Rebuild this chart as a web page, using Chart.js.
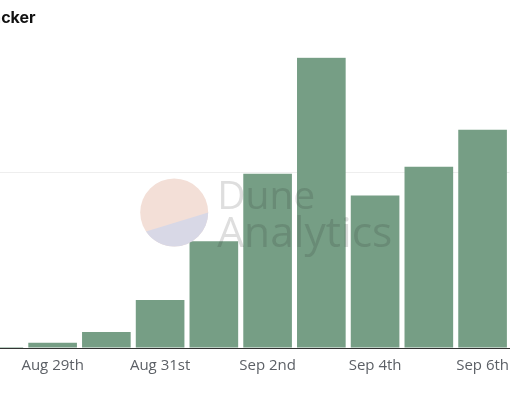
<!DOCTYPE html>
<html><head><meta charset="utf-8">
<style>html,body{margin:0;padding:0;background:#fff;overflow:hidden;width:520px;height:400px}
#w{position:absolute;left:-28.2px;top:0;width:546px;height:400px}</style>
<script src="https://cdn.jsdelivr.net/npm/chart.js@4"></script></head>
<body><div id="w"><canvas id="c"></canvas></div>
<script>
const categories=["Aug 28th","Aug 29th","Aug 30th","Aug 31st","Sep 1st","Sep 2nd","Sep 3rd","Sep 4th","Sep 5th","Sep 6th"];
const shownLabels=["Aug 29th","Aug 31st","Sep 2nd","Sep 4th","Sep 6th"];
const values=[0.6,3,9.2,27.4,61,99.4,165.7,87,103.4,124.6];
const titleText="\u00A0Tracker";
const watermark={
 id:'watermark',
 afterDatasetsDraw(ch){
  const g=ch.ctx,cx=202.2,cy=212.5,r=34;
  g.save();
  g.globalCompositeOperation='multiply';
  g.fillStyle='#f3dfd7';g.beginPath();g.arc(cx,cy,r,0,Math.PI*2);g.fill();
  g.globalCompositeOperation='source-over';
  g.fillStyle='#d8d8e6';g.beginPath();g.arc(cx,cy,r,0,2.55);g.closePath();g.fill();
  g.globalAlpha=0.15;g.fillStyle='#222';g.textBaseline='alphabetic';g.textAlign='left';
  g.font='39px "Open Sans"';
  g.fillText('Dune',245.2,209);
  g.font='42.5px "Open Sans"';
  g.fillText('Analytics',245.2,247);
  g.restore();
 }
};
new Chart(document.getElementById('c'),{
 type:'bar',
 data:{labels:categories,datasets:[{data:values,backgroundColor:'#769e85',borderWidth:0,barPercentage:0.905,categoryPercentage:1}]},
 plugins:[watermark],
 options:{responsive:true,maintainAspectRatio:false,animation:false,
  layout:{padding:{top:0,left:0,right:0,bottom:16}},
  plugins:{legend:{display:false},tooltip:{enabled:false},
   title:{display:true,text:titleText,align:'start',color:'#111',font:{family:'Inter',size:16,weight:'700'},padding:{top:9,bottom:29}}},
  scales:{
   x:{grid:{display:false,drawTicks:false},border:{display:true,color:'#333',width:1},
    ticks:{autoSkip:false,maxRotation:0,padding:9,color:'#5c6066',font:{family:'"Open Sans"',size:15},
     callback(v){const l=categories[v];return shownLabels.includes(l)?l:'';}}},
   y:{display:true,min:0,max:166,border:{display:false},
    grid:{drawTicks:false,color(c){return c.tick&&c.tick.value===100?'#eeeeee':'rgba(0,0,0,0)';}},
    ticks:{display:false,stepSize:100}}
  }}
});
</script></body></html>
